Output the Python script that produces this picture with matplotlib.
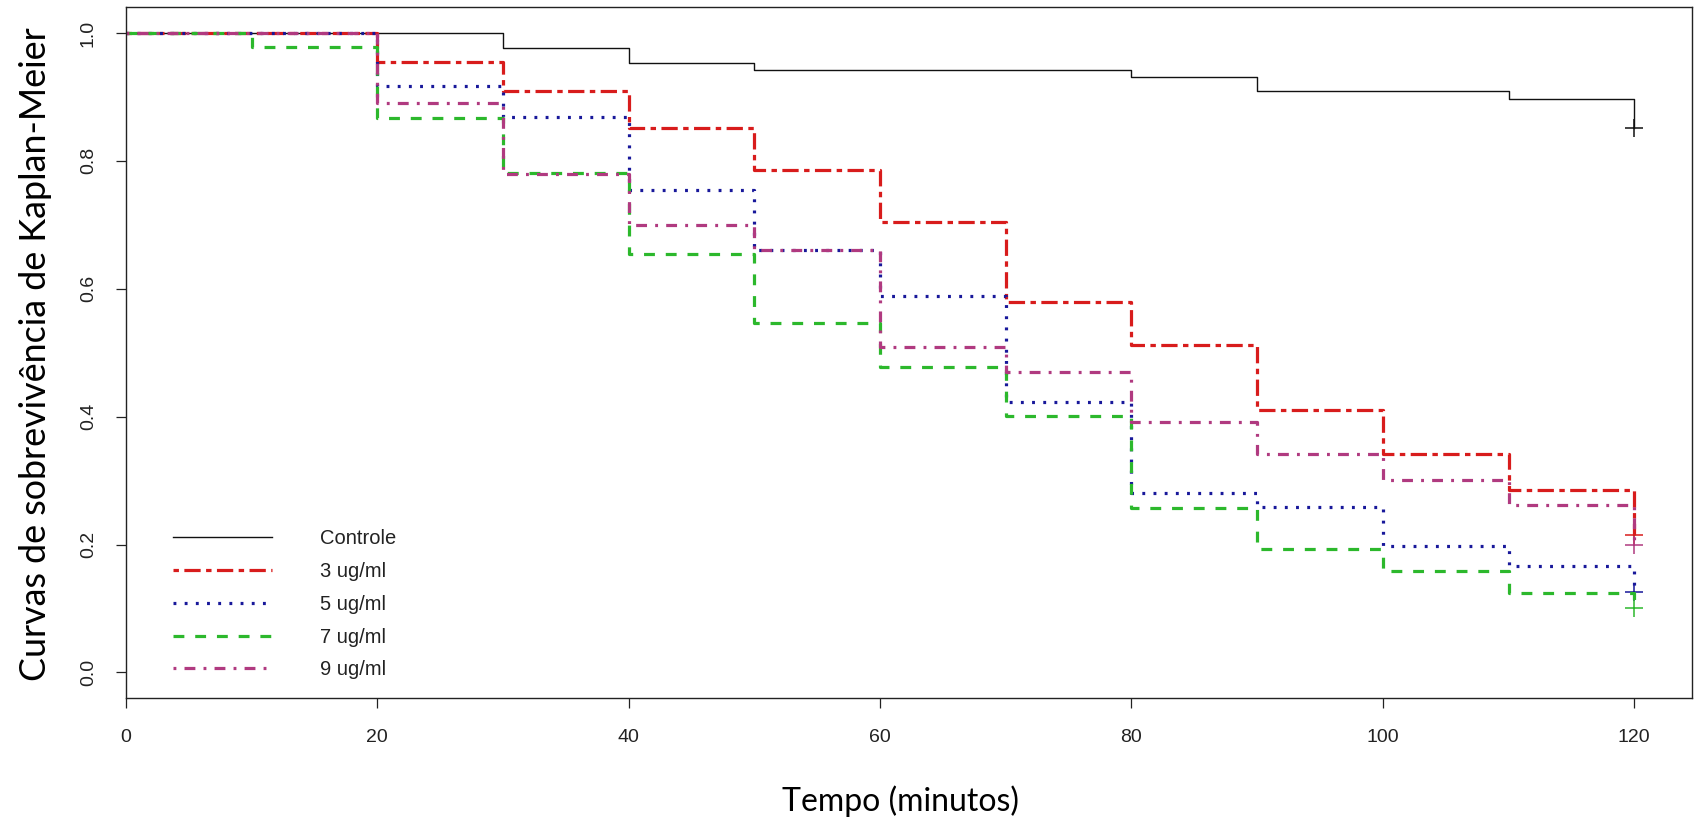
import matplotlib
matplotlib.use("Agg")
import matplotlib.pyplot as plt

# ---- data ----
times = [0, 10, 20, 30, 40, 50, 60, 70, 80, 90, 100, 110, 120]
controle = [1.0, 1.0, 1.0, 0.976, 0.953, 0.942, 0.942, 0.942, 0.932, 0.909, 0.909, 0.897, 0.851]
ug3 = [1.0, 1.0, 0.954, 0.909, 0.852, 0.785, 0.705, 0.580, 0.512, 0.411, 0.341, 0.285, 0.215]
ug5 = [1.0, 1.0, 0.917, 0.868, 0.754, 0.661, 0.589, 0.4235, 0.280, 0.259, 0.198, 0.166, 0.125]
ug7 = [1.0, 0.978, 0.867, 0.781, 0.655, 0.547, 0.478, 0.401, 0.257, 0.1925, 0.158, 0.124, 0.101]
ug9 = [1.0, 1.0, 0.890, 0.780, 0.700, 0.661, 0.509, 0.470, 0.391, 0.341, 0.301, 0.262, 0.200]

labels = ["Controle", "3 ug/ml", "5 ug/ml", "7 ug/ml", "9 ug/ml"]
series = [controle, ug3, ug5, ug7, ug9]
colors = ["#111111", "#d81c1c", "#18189a", "#2cb82c", "#b03a80"]
widths = [1.0, 2.3, 2.3, 2.3, 2.3]
styles = ["-", (0, (1.7, 1.7, 5.1, 1.7)), (0, (0.9, 2.6)), (0, (3.4, 3.4)), (0, (0.9, 2.55, 3.4, 2.55))]

xticks = [0, 20, 40, 60, 80, 100, 120]
yticks = [0.0, 0.2, 0.4, 0.6, 0.8, 1.0]
xlabel = "Tempo (minutos)"
ylabel = "Curvas de sobrevivência de Kaplan-Meier"

tick_font = ["Liberation Sans", "DejaVu Sans"]
label_font = ["Lato", "DejaVu Sans"]

fig = plt.figure(figsize=(16.95, 8.18), dpi=100)
ax = fig.add_axes([126 / 1695, 1 - 698 / 818, (1692 - 126) / 1695, (698 - 7) / 818])

for vals, lab, c, lw, ls in zip(series, labels, colors, widths, styles):
    ln, = ax.step(times, vals, where="post", color=c, lw=lw, linestyle=ls, label=lab)
    ln.set_dash_capstyle("butt")
    ax.plot([times[-1]], [vals[-1]], marker="+", color=c, markersize=13, mew=1.1, linestyle="none")

ax.set_xlim(0, 124.6)
ax.set_ylim(-0.04, 1.0407)
ax.set_xticks(xticks)
ax.set_xticklabels([str(t) for t in xticks], fontfamily=tick_font, fontsize=14, color="#222222")
ax.set_yticks(yticks)
ax.set_yticklabels([f"{v:.1f}" for v in yticks], fontfamily=tick_font, fontsize=14,
                   color="#222222", rotation=90, va="center")
ax.tick_params(axis="both", length=7, width=0.9, color="#222222")
ax.tick_params(axis="x", pad=15)
ax.tick_params(axis="y", pad=14)
for sp in ax.spines.values():
    sp.set_linewidth(1.0)
    sp.set_color("#222222")

leg = ax.legend(loc="upper left", bbox_to_anchor=(0.030, 0.2447), frameon=False,
                prop={"family": tick_font, "size": 14.5}, handlelength=4.9,
                handletextpad=2.4, labelspacing=0.69, borderpad=0, borderaxespad=0)
for t in leg.get_texts():
    t.set_color("#222222")

fig.text(900 / 1695, 1 - 801 / 818, xlabel, ha="center", va="center",
         fontfamily=label_font, fontsize=23, color="black")
fig.text(36 / 1695, 1 - 354 / 818, ylabel, ha="center", va="center", rotation=90,
         fontfamily=label_font, fontsize=25.8, color="black")

fig.savefig("out.png", dpi=100, facecolor="white")
